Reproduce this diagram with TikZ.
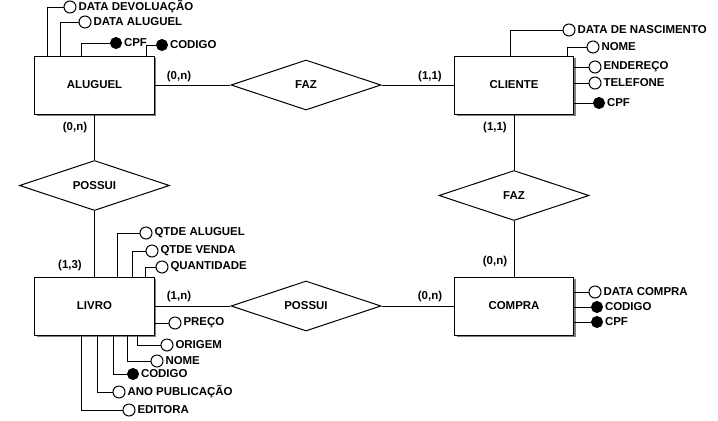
\documentclass[tikz,border=0pt]{standalone}
\usepackage{fontspec}
\setmainfont{Liberation Sans}
\usetikzlibrary{shapes.geometric,shadows}
\begin{document}
\begin{tikzpicture}[x=1bp,y=-1bp,line width=1bp,
  every node/.style={font=\bfseries\fontsize{11.5}{13}\selectfont},
  entity/.style={draw,fill=white,minimum width=119bp,minimum height=58bp,inner sep=0pt,
    drop shadow={shadow xshift=2bp,shadow yshift=-2bp,fill=gray,opacity=1}},
  rel/.style={draw,fill=white,diamond,aspect=3,minimum width=150bp,minimum height=50bp,inner sep=0pt},
  attr/.style={draw,circle,fill=white,minimum size=12bp,inner sep=0pt,label distance=2bp},
  keyattr/.style={attr,fill=black,minimum size=11bp},
  every label/.style={inner sep=1.5bp}]
\useasboundingbox (0,0) rectangle (718,420);

\node[entity] (aluguel) at (94.5,85) {ALUGUEL};
\node[entity] (cliente) at (514,85) {CLIENTE};
\node[entity] (livro) at (94.5,306) {LIVRO};
\node[entity] (compra) at (514,306) {COMPRA};

\node[rel] (faz1) at (306,85) {FAZ};
\node[rel] (possui1) at (94.5,185.5) {POSSUI};
\node[rel] (faz2) at (514,195.5) {FAZ};
\node[rel] (possui2) at (306,306) {POSSUI};

\draw (aluguel) -- (faz1) -- (cliente);
\draw (aluguel) -- (possui1) -- (livro);
\draw (cliente) -- (faz2) -- (compra);
\draw (livro) -- (possui2) -- (compra);

\node (c1) at (179,77) {(0,n)};
\node (c2) at (430,77) {(1,1)};
\node (c3) at (75,128) {(0,n)};
\node (c4) at (70,266) {(1,3)};
\node (c5) at (495,128) {(1,1)};
\node (c6) at (495,262) {(0,n)};
\node (c7) at (179,297) {(1,n)};
\node (c8) at (430,297) {(0,n)};

% aluguel
\node[attr,label=right:DATA DEVOLUAÇÃO] (dtdevol) at (70,7) {};
\node[attr,label=right:DATA ALUGUEL] (dtalug) at (85,22) {};
\node[keyattr,label=right:CPF] (cpfal) at (116,43) {};
\node[keyattr,label=right:CODIGO] (codal) at (162,45) {};
\draw (dtdevol) -| ([xshift=13bp]aluguel.north west);
\draw (dtalug) -| ([xshift=26bp]aluguel.north west);
\draw (cpfal) -| ([xshift=47bp]aluguel.north west);
\draw (codal) -| ([xshift=112bp]aluguel.north west);

% cliente
\node[attr,label=right:DATA DE NASCIMENTO] (dtnasc) at (569,30) {};
\node[attr,label=right:NOME] (nomecl) at (593,47) {};
\node[attr,label=right:ENDEREÇO] (ender) at (595,67) {};
\node[attr,label=right:TELEFONE] (telef) at (595,83) {};
\node[keyattr,label=right:CPF] (cpfcl) at (599,103) {};
\draw (dtnasc) -| ([xshift=56bp]cliente.north west);
\draw (nomecl) -| ([xshift=113bp]cliente.north west);
\draw (ender) -- (ender -| cliente.east);
\draw (telef) -- (telef -| cliente.east);
\draw (cpfcl) -- (cpfcl -| cliente.east);

% livro
\node[attr,label=right:QTDE ALUGUEL] (qtdal) at (146,233) {};
\node[attr,label=right:QTDE VENDA] (qtdvd) at (152,251) {};
\node[attr,label=right:QUANTIDADE] (quant) at (162,267) {};
\node[attr,label=right:PREÇO] (preco) at (175,323) {};
\node[attr,label=right:ORIGEM] (origem) at (167,345) {};
\node[attr,label=right:NOME] (nomelv) at (157,361) {};
\node[keyattr,label=right:CODIGO] (codlv) at (133,374) {};
\node[attr,label=right:ANO PUBLICAÇÃO] (anopub) at (119,392) {};
\node[attr,label=right:EDITORA] (editora) at (129,410) {};
\draw (qtdal) -| ([xshift=83bp]livro.north west);
\draw (qtdvd) -| ([xshift=98bp]livro.north west);
\draw (quant) -| ([xshift=111bp]livro.north west);
\draw (preco) -- (preco -| livro.east);
\draw (origem) -| ([xshift=103bp]livro.south west);
\draw (nomelv) -| ([xshift=93bp]livro.south west);
\draw (codlv) -| ([xshift=79bp]livro.south west);
\draw (anopub) -| ([xshift=63bp]livro.south west);
\draw (editora) -| ([xshift=47bp]livro.south west);

% compra
\node[attr,label=right:DATA COMPRA] (dtcomp) at (595,292) {};
\node[keyattr,label=right:CODIGO] (codcp) at (597,307) {};
\node[keyattr,label=right:CPF] (cpfcp) at (597,322) {};
\draw (dtcomp) -- (dtcomp -| compra.east);
\draw (codcp) -- (codcp -| compra.east);
\draw (cpfcp) -- (cpfcp -| compra.east);
\end{tikzpicture}
\end{document}
